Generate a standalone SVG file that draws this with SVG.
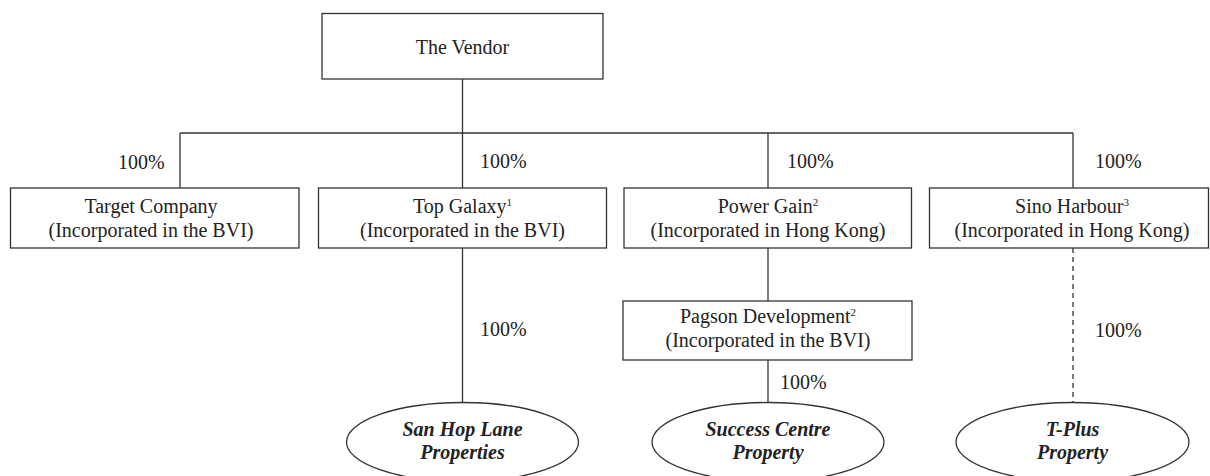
<svg xmlns="http://www.w3.org/2000/svg" width="1210" height="476" viewBox="0 0 1210 476">
<style>
  .box { fill: #ffffff; stroke: #333333; stroke-width: 1.3; }
  .ell { fill: #ffffff; stroke: #333333; stroke-width: 1.3; }
  .ln { fill: none; stroke: #333333; stroke-width: 1.3; }
  .dash { fill: none; stroke: #333333; stroke-width: 1.3; stroke-dasharray: 5 4; }
  text { font-family: "Liberation Serif", "Times New Roman", serif; font-size: 20px; fill: #222222; }
  .c { text-anchor: middle; }
  .bi { font-weight: bold; font-style: italic; }
  .sup { font-size: 11px; }
</style>
<rect x="0" y="0" width="1210" height="476" fill="#ffffff"/>
<g id="connectors">
  <line class="ln" x1="462.5" y1="79" x2="462.5" y2="133"/>
  <line class="ln" x1="180" y1="133" x2="1073" y2="133"/>
  <line class="ln" x1="180" y1="133" x2="180" y2="188"/>
  <line class="ln" x1="462.5" y1="133" x2="462.5" y2="188"/>
  <line class="ln" x1="768" y1="133" x2="768" y2="188"/>
  <line class="ln" x1="1073" y1="133" x2="1073" y2="188"/>
  <line class="ln" x1="462.5" y1="248" x2="462.5" y2="403"/>
  <line class="ln" x1="768" y1="248" x2="768" y2="301"/>
  <line class="ln" x1="768" y1="360" x2="768" y2="403"/>
  <line class="dash" x1="1073" y1="248" x2="1073" y2="403"/>
  <text x="118" y="169">100%</text>
  <text x="480" y="168">100%</text>
  <text x="787" y="168">100%</text>
  <text x="1095" y="168">100%</text>
  <text x="480" y="336">100%</text>
  <text x="780" y="389">100%</text>
  <text x="1095" y="337">100%</text>
</g>
<g id="vendor">
  <rect class="box" x="322" y="13.5" width="281" height="65.5"/>
  <text class="c" x="462.5" y="54">The Vendor</text>
</g>
<g id="target-company">
  <rect class="box" x="10.5" y="188" width="288.5" height="60"/>
  <text class="c" x="151" y="213">Target Company</text>
  <text class="c" x="151" y="237">(Incorporated in the BVI)</text>
</g>
<g id="top-galaxy">
  <rect class="box" x="318.5" y="188" width="288" height="60"/>
  <text class="c" x="462.5" y="213"><tspan>Top Galaxy</tspan><tspan class="sup" dy="-7">1</tspan></text>
  <text class="c" x="462.5" y="237">(Incorporated in the BVI)</text>
</g>
<g id="power-gain">
  <rect class="box" x="624" y="188" width="287.5" height="60"/>
  <text class="c" x="768" y="213"><tspan>Power Gain</tspan><tspan class="sup" dy="-7">2</tspan></text>
  <text class="c" x="768" y="237">(Incorporated in Hong Kong)</text>
</g>
<g id="sino-harbour">
  <rect class="box" x="929.5" y="188" width="279" height="60"/>
  <text class="c" x="1072" y="213"><tspan>Sino Harbour</tspan><tspan class="sup" dy="-7">3</tspan></text>
  <text class="c" x="1072" y="237">(Incorporated in Hong Kong)</text>
</g>
<g id="pagson-development">
  <rect class="box" x="623" y="301" width="289" height="59"/>
  <text class="c" x="768" y="323"><tspan>Pagson Development</tspan><tspan class="sup" dy="-7">2</tspan></text>
  <text class="c" x="768" y="347">(Incorporated in the BVI)</text>
</g>
<g id="san-hop-lane">
  <ellipse class="ell" cx="462.5" cy="442" rx="116" ry="39.5"/>
  <text class="c bi" x="462.5" y="436">San Hop Lane</text>
  <text class="c bi" x="462.5" y="459">Properties</text>
</g>
<g id="success-centre">
  <ellipse class="ell" cx="768" cy="442" rx="116" ry="39.5"/>
  <text class="c bi" x="768" y="436">Success Centre</text>
  <text class="c bi" x="768" y="459">Property</text>
</g>
<g id="t-plus">
  <ellipse class="ell" cx="1072.5" cy="442" rx="116.5" ry="39.5"/>
  <text class="c bi" x="1072.5" y="436">T-Plus</text>
  <text class="c bi" x="1072.5" y="459">Property</text>
</g>
</svg>
